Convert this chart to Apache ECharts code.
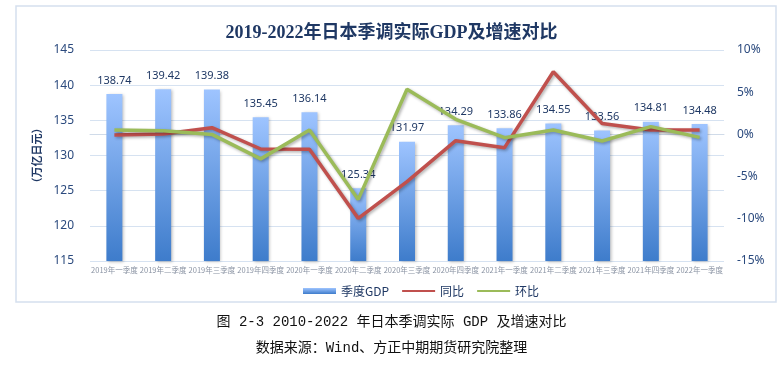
<!DOCTYPE html>
<html>
<head>
<meta charset="utf-8">
<script src="https://cdn.jsdelivr.net/npm/echarts@6/dist/echarts.min.js"></script>
<style>
html,body{margin:0;padding:0;background:#fff;}
#c{width:783px;height:365px;}
</style>
</head>
<body>
<div id="c"></div>
<script>
var categories = ['2019年一季度','2019年二季度','2019年三季度','2019年四季度','2020年一季度','2020年二季度','2020年三季度','2020年四季度','2021年一季度','2021年二季度','2021年三季度','2021年四季度','2022年一季度'];
var gdp = [138.74,139.42,139.38,135.45,136.14,125.34,131.97,134.29,133.86,134.55,133.56,134.81,134.48];
var yoy = [-0.07,0.05,0.8,-1.73,-1.77,-9.95,-5.6,-0.74,-1.57,7.43,1.3,0.52,0.52];
var qoq = [0.52,0.44,0.0,-2.9,0.52,-7.7,5.34,1.79,-0.39,0.52,-0.78,0.92,-0.35];
var leftTicks = {min:115,max:145,interval:5};
var rightTicks = {min:-15,max:10,interval:5};

var navy = '#1F3864';
var axisTxt = '#2B4A7E';
var chart = echarts.init(document.getElementById('c'), null, {renderer:'canvas'});
chart.setOption({
  backgroundColor:'#fff',
  animation:false,
  title:{
    text:'2019-2022年日本季调实际GDP及增速对比',
    left:'center', top:19,
    textStyle:{fontFamily:'"Liberation Serif","Noto Sans CJK SC"',fontSize:18,fontWeight:'bold',color:navy}
  },
  graphic:[
    {type:'rect',shape:{x:16,y:6,width:760,height:296},style:{fill:'none',stroke:'#D5E0EE',lineWidth:1.5},silent:true,z:-1},
    {type:'text',left:'center',top:315,style:{text:'图 2-3 2010-2022 年日本季调实际 GDP 及增速对比',font:'14px "Liberation Mono","Noto Sans CJK SC"',fill:'#111'}},
    {type:'text',left:'center',top:341,style:{text:'数据来源：Wind、方正中期期货研究院整理',font:'14px "Liberation Mono","Noto Sans CJK SC"',fill:'#111'}}
  ],
  grid:{left:90,right:59,top:50,bottom:104},
  legend:{
    left:298, top:280, itemWidth:33, itemHeight:6, itemGap:12,
    textStyle:{fontFamily:'"Noto Sans CJK SC"',fontSize:12,color:navy},
    data:[
      {name:'季度GDP',icon:'rect'},
      {name:'同比',itemStyle:{opacity:0}},
      {name:'环比',itemStyle:{opacity:0}}
    ]
  },
  xAxis:{
    type:'category', data:categories,
    axisLine:{lineStyle:{color:'#D0DBE9'}},
    axisTick:{show:false},
    axisLabel:{fontSize:7.5,color:'#8A93A3',margin:5,interval:0,fontFamily:'"Noto Sans CJK SC"'}
  },
  yAxis:[
    {type:'value',min:leftTicks.min,max:leftTicks.max,interval:leftTicks.interval,
     name:'（万亿日元）',nameLocation:'middle',nameRotate:90,nameGap:44,
     nameTextStyle:{fontFamily:'"Noto Sans CJK SC"',fontSize:11,fontWeight:'bold',color:navy},
     axisLine:{show:false},axisTick:{show:false},
     axisLabel:{fontSize:12,color:axisTxt,margin:16,fontFamily:'"Noto Sans","Noto Sans CJK SC"'},
     splitLine:{lineStyle:{color:'#D6E2F1',width:1}}},
    {type:'value',min:rightTicks.min,max:rightTicks.max,interval:rightTicks.interval,
     axisLine:{show:false},axisTick:{show:false},
     axisLabel:{fontSize:12,color:axisTxt,margin:13,formatter:'{value}%',fontFamily:'"Noto Sans","Noto Sans CJK SC"'},
     splitLine:{show:false}}
  ],
  series:[
    {name:'季度GDP',type:'bar',data:gdp,barWidth:16,yAxisIndex:0,
     itemStyle:{color:new echarts.graphic.LinearGradient(0,0,0,1,[{offset:0,color:'#9EC4FF'},{offset:1,color:'#3E7CCB'}]),
       shadowColor:'rgba(0,0,0,0.25)',shadowBlur:3,shadowOffsetX:1.5,shadowOffsetY:1},
     label:{show:true,position:'top',distance:8,fontSize:11,color:navy,fontFamily:'"Noto Sans","Noto Sans CJK SC"'}},
    {name:'同比',type:'line',data:yoy,yAxisIndex:1,symbol:'none',
     itemStyle:{color:'#C0504D'},
     lineStyle:{color:'#C0504D',width:3.5,shadowColor:'rgba(0,0,0,0.3)',shadowBlur:3,shadowOffsetX:1.5,shadowOffsetY:1.5}},
    {name:'环比',type:'line',data:qoq,yAxisIndex:1,symbol:'none',
     itemStyle:{color:'#9BBB59'},
     lineStyle:{color:'#9BBB59',width:3.5,shadowColor:'rgba(0,0,0,0.3)',shadowBlur:3,shadowOffsetX:1.5,shadowOffsetY:1.5}}
  ]
});
</script>
</body>
</html>
